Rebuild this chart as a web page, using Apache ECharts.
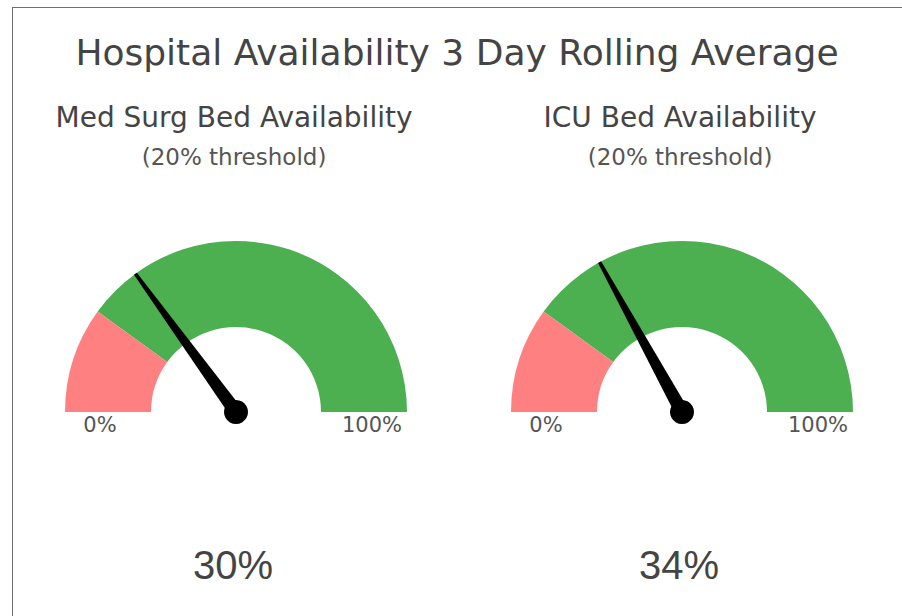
<!DOCTYPE html>
<html>
<head>
<meta charset="utf-8">
<script src="https://cdn.jsdelivr.net/npm/echarts@6/dist/echarts.min.js"></script>
<style>
  html, body { margin: 0; padding: 0; background: #fff; }
  #chart { width: 902px; height: 616px; position: absolute; left: 0; top: 0; }
  #frame { position: absolute; left: 12px; top: 7px; width: 902px; height: 620px;
           border-left: 1px solid #6e6e6e; border-top: 1px solid #6e6e6e; pointer-events: none; }
</style>
</head>
<body>
<div id="chart"></div>
<div id="frame"></div>
<script>
const mainTitle = 'Hospital Availability 3 Day Rolling Average';
const categories = ['Med Surg Bed Availability', 'ICU Bed Availability'];
const subtitles = ['(20% threshold)', '(20% threshold)'];
const values = [30, 34];
const thresholds = [20, 20];
const tickLabels = ['0%', '100%'];

const RED = '#ff8080';
const GREEN = '#4caf50';
const TEXT = '#444444';
const centersX = [236, 682];
const centerY = 412;

const chart = echarts.init(document.getElementById('chart'), null, { renderer: 'svg' });

const series = values.map((v, i) => ({
  type: 'gauge',
  center: [centersX[i], centerY],
  radius: 171,
  startAngle: 180,
  endAngle: 0,
  min: 0,
  max: 100,
  splitNumber: 1,
  axisLine: {
    lineStyle: {
      width: 86,
      color: [[thresholds[i] / 100, RED], [1, GREEN]]
    }
  },
  splitLine: { show: false, length: 0, distance: 0 },
  axisTick: { show: false },
  axisLabel: {
    distance: 4,
    formatter: function (val) {
      const idx = val <= 0 ? 0 : 1;
      return '{t|' + tickLabels[idx] + '}';
    },
    rich: {
      t: {
        width: 62,
        align: 'center',
        padding: [26, 0, 0, 0],
        fontFamily: 'DejaVu Sans',
        fontSize: 21,
        color: '#555'
      }
    }
  },
  pointer: {
    icon: 'path://M3,0 L5,0 L8,100 L0,100 Z',
    length: '100%',
    width: 14,
    itemStyle: { color: '#000' }
  },
  anchor: {
    show: true,
    showAbove: true,
    size: 24,
    itemStyle: { color: '#000' }
  },
  title: { show: false },
  detail: {
    offsetCenter: [-3, 153],
    formatter: '{value}%',
    fontFamily: 'Liberation Sans',
    fontSize: 40,
    fontWeight: 'normal',
    color: TEXT
  },
  animation: false,
  data: [{ value: v, name: categories[i] }]
}));

const graphics = [
  {
    type: 'text', x: 457, y: 52,
    style: { text: mainTitle, align: 'center', verticalAlign: 'middle',
             fontFamily: 'DejaVu Sans', fontSize: 36, fill: TEXT }
  }
];
const subX = [234, 680];
categories.forEach((c, i) => {
  graphics.push({
    type: 'text', x: subX[i], y: 117,
    style: { text: c, align: 'center', verticalAlign: 'middle',
             fontFamily: 'DejaVu Sans', fontSize: 28, fill: TEXT }
  });
  graphics.push({
    type: 'text', x: subX[i], y: 157,
    style: { text: subtitles[i], align: 'center', verticalAlign: 'middle',
             fontFamily: 'DejaVu Sans', fontSize: 23, fill: '#555' }
  });
});

chart.setOption({
  animation: false,
  backgroundColor: '#fff',
  graphic: graphics,
  series: series
});
</script>
</body>
</html>
